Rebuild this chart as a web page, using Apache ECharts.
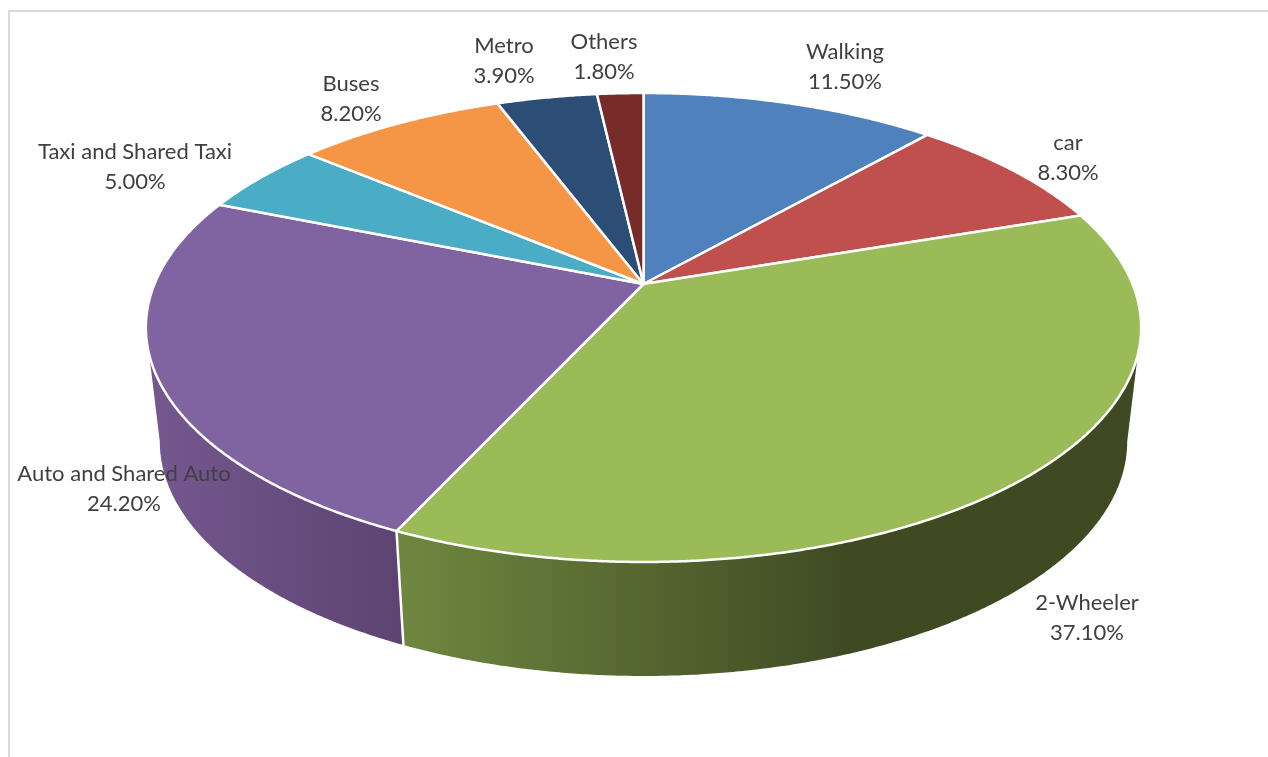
<!DOCTYPE html>
<html>
<head>
<meta charset="utf-8">
<title>Mode share</title>
<script src="https://cdn.jsdelivr.net/npm/echarts@6/dist/echarts.min.js"></script>
<style>
  html, body { margin: 0; padding: 0; background: #fff; }
  #chart { width: 1268px; height: 757px; }
</style>
</head>
<body>
<div id="chart"></div>
<script>
// Share of trips per mode, clockwise from twelve o'clock
const categories = ['Walking', 'car', '2-Wheeler', 'Auto and Shared Auto', 'Taxi and Shared Taxi', 'Buses', 'Metro', 'Others'];
const shares = [11.5, 8.3, 37.1, 24.2, 5.0, 8.2, 3.9, 1.8];
const faceColors = ['#4f81bd', '#c0504d', '#9bbb59', '#8064a2', '#4bacc6', '#f49645', '#2c4d75', '#772c2a'];

// Side wall shading for each slice: [left colour, right colour, x where it reaches the right colour]
const wallShades = [
  ['#3f5f8a', '#2f4a6e', 1140],
  ['#8c3b39', '#6e2d2b', 1140],
  ['#6f8840', '#3f4a23', 850],
  ['#75588f', '#5c4472', 400],
  ['#37808f', '#2c6a78', 1140],
  ['#b56f34', '#8f5729', 1140],
  ['#203855', '#182b42', 1140],
  ['#571f1e', '#421817', 1140]
];

// Label centres, one per slice
const labelCentres = [[845, 67], [1068, 158], [1087, 618], [124, 489], [135, 167], [351, 99], [504, 61], [604, 57]];

// Tilted disc: a perspective projection of the unit circle, with a shallower lower rim for the wall
const disc = { cx: 643.5, cy: 284, a: 489, b: 226.4, k: 0.1855, depth: 114, rimScale: 0.972 };
const total = shares.reduce((s, v) => s + v, 0);
const startOf = shares.map((_, i) => shares.slice(0, i).reduce((s, v) => s + v, 0));
const toAngle = (v) => echarts.number.linearMap(v, [0, total], [0, Math.PI * 2]);

function projectTop(theta) {
  const u = Math.sin(theta), v = -Math.cos(theta), w = 1 - disc.k * v;
  return [disc.cx + disc.a * u / w, disc.cy + disc.b * v / w];
}
function projectRim(theta) {
  const p = projectTop(theta);
  return [disc.cx + (p[0] - disc.cx) * disc.rimScale, p[1] + disc.depth];
}
function arc(from, to, project) {
  const pts = [], steps = Math.max(2, Math.ceil((to - from) / 0.006));
  for (let i = 0; i <= steps; i++) pts.push(project(from + (to - from) * i / steps));
  return pts;
}

// The wall is seen between the disc's widest points on the projected ellipse
const visibleFrom = Math.acos(-disc.k), visibleTo = Math.PI * 2 - visibleFrom;

function renderWall(params, api) {
  const i = params.dataIndex;
  const from = Math.max(toAngle(startOf[i]), visibleFrom);
  const to = Math.min(toAngle(startOf[i] + api.value(0)), visibleTo);
  if (to <= from) return { type: 'group', children: [] };
  const shade = wallShades[i];
  const outline = arc(from, to, projectTop).concat(arc(from, to, projectRim).reverse());
  const xs = outline.map((p) => p[0]);
  const x0 = Math.min.apply(null, xs), x1 = Math.max.apply(null, xs);
  const children = [{
    type: 'polygon',
    shape: { points: outline },
    style: {
      fill: {
        type: 'linear', global: true, x: x0, y: 0, x2: x1, y2: 0,
        colorStops: [
          { offset: 0, color: shade[0] },
          { offset: Math.min(1, (shade[2] - x0) / (x1 - x0)), color: shade[1] },
          { offset: 1, color: shade[1] }
        ]
      }
    }
  }];
  // White seam where two slices meet on the wall
  if (from > visibleFrom) {
    children.push({
      type: 'line',
      shape: { x1: projectTop(from)[0], y1: projectTop(from)[1], x2: projectRim(from)[0], y2: projectRim(from)[1] },
      style: { stroke: '#fff', lineWidth: 2.5 }
    });
  }
  return { type: 'group', children };
}

function renderFace(params, api) {
  const i = params.dataIndex;
  const from = toAngle(startOf[i]);
  const to = toAngle(startOf[i] + api.value(0));
  const points = [[disc.cx, disc.cy]].concat(arc(from, to, projectTop));
  return {
    type: 'polygon',
    shape: { points },
    style: { fill: faceColors[i], stroke: '#fff', lineWidth: 2.5, lineJoin: 'round' }
  };
}

function renderLabel(params, api) {
  const i = params.dataIndex;
  return {
    type: 'text',
    x: labelCentres[i][0],
    y: labelCentres[i][1],
    style: {
      text: categories[i] + '\n' + api.value(0).toFixed(2) + '%',
      fill: '#404040',
      font: '22px Lato',
      lineHeight: 30,
      align: 'center',
      verticalAlign: 'middle'
    }
  };
}

const seriesData = shares.map((v) => [v]);
const chart = echarts.init(document.getElementById('chart'), null, { renderer: 'canvas' });
chart.setOption({
  animation: false,
  backgroundColor: '#fff',
  // Chart frame: only its top and left edges fall inside the page
  graphic: [
    { type: 'rect', silent: true, shape: { x: 8, y: 10, width: 1260, height: 2 }, style: { fill: '#d9d9d9' } },
    { type: 'rect', silent: true, shape: { x: 8, y: 10, width: 2, height: 747 }, style: { fill: '#d9d9d9' } }
  ],
  series: [
    { type: 'custom', coordinateSystem: 'none', z: 1, silent: true, data: seriesData, renderItem: renderWall },
    { type: 'custom', coordinateSystem: 'none', z: 2, silent: true, data: seriesData, renderItem: renderFace },
    { type: 'custom', coordinateSystem: 'none', z: 3, silent: true, data: seriesData, renderItem: renderLabel }
  ]
});
</script>
</body>
</html>
